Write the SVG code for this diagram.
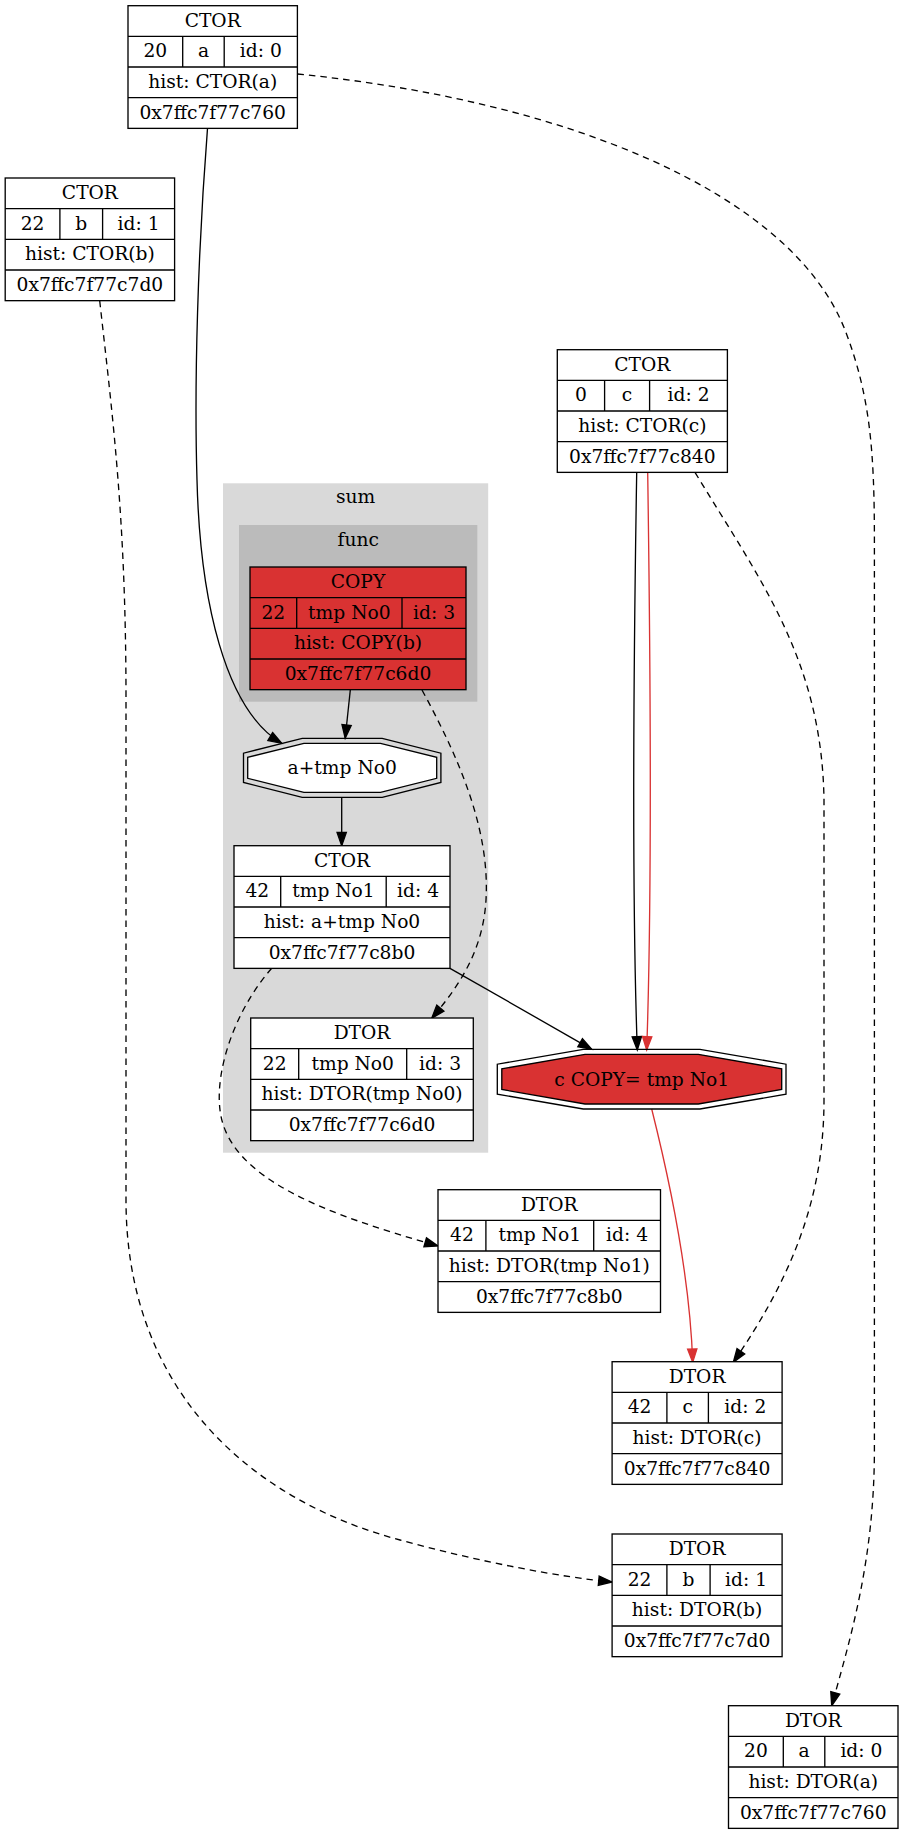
<svg xmlns="http://www.w3.org/2000/svg" width="903" height="1835" viewBox="0 0 903 1835">
<style>
.bg{fill:#ffffff}
.box{fill:#ffffff;stroke:#000000;stroke-width:1.33}
.box.red{fill:#d93232}
.ln{stroke:#000000;stroke-width:1.33;fill:none}
.t{font-family:"DejaVu Serif","Liberation Serif",serif;font-size:18.67px;text-anchor:middle;fill:#000000}
.e{fill:none;stroke:#000000;stroke-width:1.33}
.d{stroke-dasharray:6.5,5}
.er{fill:none;stroke:#d93232;stroke-width:1.33}
.oct{fill:none;stroke:#000000;stroke-width:1.33}
.octw{fill:#ffffff;stroke:#000000;stroke-width:1.33}
.octr{fill:#d93232;stroke:#000000;stroke-width:1.33}
</style>
<defs>
<marker id="ab" markerUnits="userSpaceOnUse" markerWidth="15" markerHeight="11" refX="13.33" refY="4.67" orient="auto" overflow="visible">
<path d="M0,0 L13.33,4.67 L0,9.33 Z" fill="#000000" stroke="#000000" stroke-width="1.33"/>
</marker>
<marker id="ar" markerUnits="userSpaceOnUse" markerWidth="15" markerHeight="11" refX="13.33" refY="4.67" orient="auto" overflow="visible">
<path d="M0,0 L13.33,4.67 L0,9.33 Z" fill="#d93232" stroke="#d93232" stroke-width="1.33"/>
</marker>
</defs>
<rect class="bg" x="0" y="0" width="903" height="1835"/>

<g id="cluster_sum">
<rect x="223" y="483.3" width="265.2" height="669.4" fill="#d9d9d9"/>
<text class="t" x="355.6" y="503.3">sum</text>
</g>
<g id="cluster_func">
<rect x="239" y="525" width="238.3" height="176.7" fill="#bbbbbb"/>
<text class="t" x="358.2" y="545.7">func</text>
</g>

<g id="edges">
<path class="e d" d="M297.4,74 C560,100 790,190 845,330 C870,395 874.4,450 874.4,540 L874.4,1450 C874.4,1560 850,1640 831.7,1705.7" marker-end="url(#ab)"/>
<path class="e d" d="M99.7,300.7 C113,420 126,520 126,700 L126,1200 C126,1390 250,1500 400,1540 C480,1562 560,1577 612,1582" marker-end="url(#ab)"/>
<path class="e" d="M207.5,128.4 C198,250 194,380 197,480 C200,600 225,710 281.7,743.3" marker-end="url(#ab)"/>
<path class="e" d="M350.3,690 L345.2,738.3" marker-end="url(#ab)"/>
<path class="e" d="M341.7,797.3 L341.7,845.7" marker-end="url(#ab)"/>
<path class="e" d="M636.7,472.7 C633,700 632,900 637.3,1050" marker-end="url(#ab)"/>
<path class="er" d="M647.7,472.7 C651,700 652,900 646.7,1050" marker-end="url(#ar)"/>
<path class="e d" d="M695,472.3 C760,580 822,660 824,800 L824,1100 C824,1200 790,1280 733.3,1362.3" marker-end="url(#ab)"/>
<path class="e" d="M450,968.3 L591.7,1049.3" marker-end="url(#ab)"/>
<path class="e d" d="M271.7,968.3 C235,1010 215,1070 220,1110 C228,1180 330,1215 438,1246" marker-end="url(#ab)"/>
<path class="e d" d="M422,690 C460,760 490,830 486,900 C483,950 460,985 431.7,1018.3" marker-end="url(#ab)"/>
<path class="er" d="M651.7,1109 C672,1190 690,1280 692.7,1362.3" marker-end="url(#ar)"/>
</g>

<g id="ctor_a">
<rect class="box" x="128" y="5.7" width="169.4" height="122.67"/>
<path class="ln" d="M128,36.37 H297.4 M128,67.03 H297.4 M128,97.7 H297.4 M182.7,36.37 V67.03 M224.2,36.37 V67.03"/>
<text class="t" x="212.7" y="26.5">CTOR</text>
<text class="t" x="155.35" y="57.2">20</text>
<text class="t" x="203.45" y="57.2">a</text>
<text class="t" x="260.8" y="57.2">id: 0</text>
<text class="t" x="212.7" y="87.8">hist: CTOR(a)</text>
<text class="t" x="212.7" y="118.5">0x7ffc7f77c760</text>
</g>

<g id="ctor_b">
<rect class="box" x="5.2" y="178" width="169.4" height="122.67"/>
<path class="ln" d="M5.2,208.67 H174.6 M5.2,239.33 H174.6 M5.2,270 H174.6 M59.9,208.67 V239.33 M102.6,208.67 V239.33"/>
<text class="t" x="89.9" y="198.8">CTOR</text>
<text class="t" x="32.55" y="229.5">22</text>
<text class="t" x="81.25" y="229.5">b</text>
<text class="t" x="138.6" y="229.5">id: 1</text>
<text class="t" x="89.9" y="260.1">hist: CTOR(b)</text>
<text class="t" x="89.9" y="290.8">0x7ffc7f77c7d0</text>
</g>

<g id="ctor_c">
<rect class="box" x="557.3" y="349.7" width="170.1" height="122.67"/>
<path class="ln" d="M557.3,380.37 H727.4 M557.3,411.03 H727.4 M557.3,441.7 H727.4 M604.6,380.37 V411.03 M649.6,380.37 V411.03"/>
<text class="t" x="642.35" y="370.5">CTOR</text>
<text class="t" x="580.95" y="401.2">0</text>
<text class="t" x="627.1" y="401.2">c</text>
<text class="t" x="688.5" y="401.2">id: 2</text>
<text class="t" x="642.35" y="431.8">hist: CTOR(c)</text>
<text class="t" x="642.35" y="462.5">0x7ffc7f77c840</text>
</g>

<g id="copy_tmp0">
<rect class="box red" x="250" y="567" width="216" height="122.67"/>
<path class="ln" d="M250,597.67 H466 M250,628.33 H466 M250,659 H466 M296.7,597.67 V628.33 M402,597.67 V628.33"/>
<text class="t" x="358" y="587.8">COPY</text>
<text class="t" x="273.35" y="618.5">22</text>
<text class="t" x="349.35" y="618.5">tmp No0</text>
<text class="t" x="434" y="618.5">id: 3</text>
<text class="t" x="358" y="649.1">hist: COPY(b)</text>
<text class="t" x="358" y="679.8">0x7ffc7f77c6d0</text>
</g>

<g id="op_add">
<polygon class="octw" points="303.9,743.3 380.5,743.3 436.7,757.3 436.7,778.3 380.5,792.3 303.9,792.3 247.7,778.3 247.7,757.3"/>
<polygon class="oct" points="302.2,738.3 382.2,738.3 440.9,753.2 440.9,782.4 382.2,797.3 302.2,797.3 243.5,782.4 243.5,753.2"/>
<text class="t" x="342.2" y="774.3">a+tmp No0</text>
</g>

<g id="ctor_tmp1">
<rect class="box" x="234" y="845.7" width="216" height="122.67"/>
<path class="ln" d="M234,876.37 H450 M234,907.03 H450 M234,937.7 H450 M280.7,876.37 V907.03 M386.2,876.37 V907.03"/>
<text class="t" x="342" y="866.5">CTOR</text>
<text class="t" x="257.35" y="897.2">42</text>
<text class="t" x="333.45" y="897.2">tmp No1</text>
<text class="t" x="418.1" y="897.2">id: 4</text>
<text class="t" x="342" y="927.8">hist: a+tmp No0</text>
<text class="t" x="342" y="958.5">0x7ffc7f77c8b0</text>
</g>

<g id="dtor_tmp0">
<rect class="box" x="250.7" y="1018" width="222.6" height="122.67"/>
<path class="ln" d="M250.7,1048.67 H473.3 M250.7,1079.33 H473.3 M250.7,1110 H473.3 M298.7,1048.67 V1079.33 M406.7,1048.67 V1079.33"/>
<text class="t" x="362" y="1038.8">DTOR</text>
<text class="t" x="274.7" y="1069.5">22</text>
<text class="t" x="352.7" y="1069.5">tmp No0</text>
<text class="t" x="440" y="1069.5">id: 3</text>
<text class="t" x="362" y="1100.1">hist: DTOR(tmp No0)</text>
<text class="t" x="362" y="1130.8">0x7ffc7f77c6d0</text>
</g>

<g id="op_copy_assign">
<polygon class="octr" points="585,1054.3 698.3,1054.3 781.7,1068.8 781.7,1089.5 698.3,1104 585,1104 501.8,1089.5 501.8,1068.8"/>
<polygon class="oct" points="583.3,1049.3 700,1049.3 786,1064.2 786,1094.2 700,1109 583.3,1109 497.3,1094.2 497.3,1064.2"/>
<text class="t" x="641.7" y="1085.5">c COPY= tmp No1</text>
</g>

<g id="dtor_tmp1">
<rect class="box" x="438" y="1189.7" width="222.5" height="122.67"/>
<path class="ln" d="M438,1220.37 H660.5 M438,1251.03 H660.5 M438,1281.7 H660.5 M485.9,1220.37 V1251.03 M593.7,1220.37 V1251.03"/>
<text class="t" x="549.25" y="1210.5">DTOR</text>
<text class="t" x="461.95" y="1241.2">42</text>
<text class="t" x="539.8" y="1241.2">tmp No1</text>
<text class="t" x="627.1" y="1241.2">id: 4</text>
<text class="t" x="549.25" y="1271.8">hist: DTOR(tmp No1)</text>
<text class="t" x="549.25" y="1302.5">0x7ffc7f77c8b0</text>
</g>

<g id="dtor_c">
<rect class="box" x="612.1" y="1361.7" width="170" height="122.67"/>
<path class="ln" d="M612.1,1392.37 H782.1 M612.1,1423.03 H782.1 M612.1,1453.7 H782.1 M666.9,1392.37 V1423.03 M708.4,1392.37 V1423.03"/>
<text class="t" x="697.1" y="1382.5">DTOR</text>
<text class="t" x="639.5" y="1413.2">42</text>
<text class="t" x="687.65" y="1413.2">c</text>
<text class="t" x="745.25" y="1413.2">id: 2</text>
<text class="t" x="697.1" y="1443.8">hist: DTOR(c)</text>
<text class="t" x="697.1" y="1474.5">0x7ffc7f77c840</text>
</g>

<g id="dtor_b">
<rect class="box" x="612.1" y="1534" width="170" height="122.67"/>
<path class="ln" d="M612.1,1564.67 H782.1 M612.1,1595.33 H782.1 M612.1,1626 H782.1 M666.9,1564.67 V1595.33 M710.1,1564.67 V1595.33"/>
<text class="t" x="697.1" y="1554.8">DTOR</text>
<text class="t" x="639.5" y="1585.5">22</text>
<text class="t" x="688.5" y="1585.5">b</text>
<text class="t" x="746.1" y="1585.5">id: 1</text>
<text class="t" x="697.1" y="1616.1">hist: DTOR(b)</text>
<text class="t" x="697.1" y="1646.8">0x7ffc7f77c7d0</text>
</g>

<g id="dtor_a">
<rect class="box" x="728.5" y="1705.7" width="169.5" height="122.67"/>
<path class="ln" d="M728.5,1736.37 H898 M728.5,1767.03 H898 M728.5,1797.7 H898 M783.3,1736.37 V1767.03 M824.8,1736.37 V1767.03"/>
<text class="t" x="813.25" y="1726.5">DTOR</text>
<text class="t" x="755.9" y="1757.2">20</text>
<text class="t" x="804.05" y="1757.2">a</text>
<text class="t" x="861.4" y="1757.2">id: 0</text>
<text class="t" x="813.25" y="1787.8">hist: DTOR(a)</text>
<text class="t" x="813.25" y="1818.5">0x7ffc7f77c760</text>
</g>
</svg>
